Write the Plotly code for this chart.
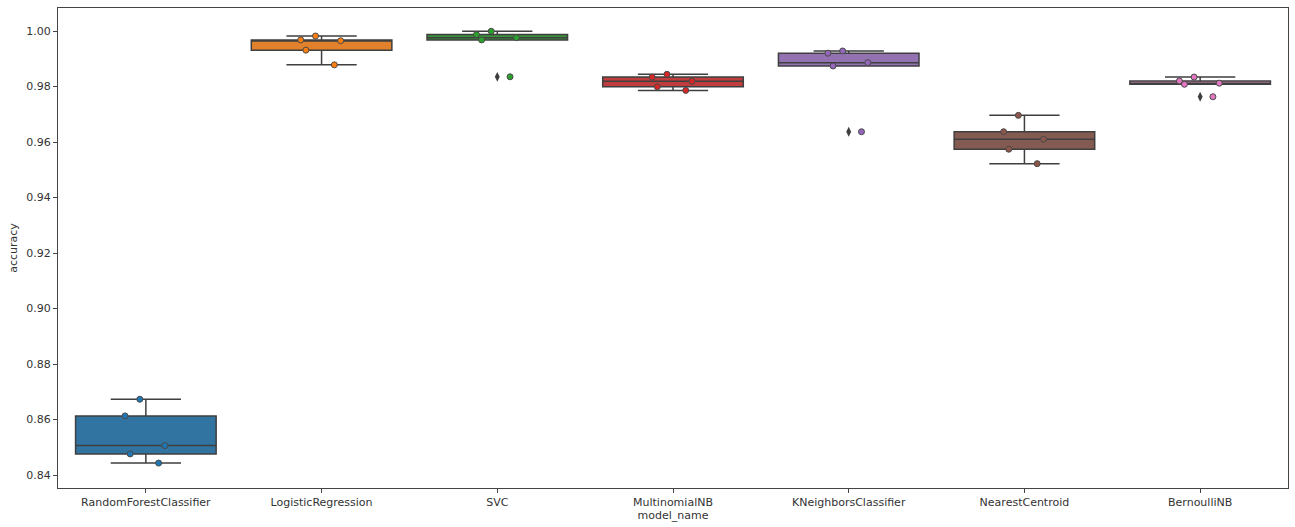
import plotly.graph_objects as go

categories = ["RandomForestClassifier", "LogisticRegression", "SVC", "MultinomialNB",
              "KNeighborsClassifier", "NearestCentroid", "BernoulliNB"]

rf_acc = [0.8673, 0.8613, 0.8506, 0.8476, 0.8443]
lr_acc = [0.9982, 0.9968, 0.9965, 0.9931, 0.9878]
svc_acc = [0.9999, 0.9987, 0.9976, 0.9968, 0.9835]
mnb_acc = [0.9844, 0.9834, 0.9819, 0.9799, 0.9786]
knn_acc = [0.9928, 0.9920, 0.9886, 0.9874, 0.9637]
nc_acc = [0.9696, 0.9637, 0.9610, 0.9574, 0.9522]
bnb_acc = [0.9834, 0.9820, 0.9812, 0.9808, 0.9763]

series = [rf_acc, lr_acc, svc_acc, mnb_acc, knn_acc, nc_acc, bnb_acc]

box_colors = ["#3274a1", "#e1812c", "#3a923a", "#c03d3e", "#9372b2", "#845b53", "#d684bd"]
point_colors = ["#1f77b4", "#ff7f0e", "#2ca02c", "#d62728", "#9467bd", "#8c564b", "#e377c2"]

y_ticks = [0.84, 0.86, 0.88, 0.90, 0.92, 0.94, 0.96, 0.98, 1.00]

fig = go.Figure()

line_col = "#3f3f3f"
for name, vals, bc in zip(categories, series, box_colors):
    fig.add_trace(go.Box(
        x=[name] * len(vals), y=vals, name=name,
        quartilemethod="inclusive",
        boxpoints="outliers", pointpos=0, jitter=0,
        width=0.8,
        fillcolor=bc,
        line=dict(color=line_col, width=1.5),
        marker=dict(symbol="diamond-tall", color=line_col, size=7),
        whiskerwidth=0.5,
        showlegend=False,
    ))

for name, vals, pc in zip(categories, series, point_colors):
    fig.add_trace(go.Box(
        x=[name] * len(vals), y=vals, name=name,
        boxpoints="all", pointpos=0, jitter=0.35,
        width=0.8,
        fillcolor="rgba(255,255,255,0)",
        line=dict(color="rgba(255,255,255,0)", width=0),
        marker=dict(color=pc, size=6, line=dict(color="#4a4a4a", width=1)),
        showlegend=False,
    ))

font = dict(family="DejaVu Sans", size=11, color="#333333")

fig.update_layout(
    width=1295, height=527,
    margin=dict(l=58, r=7, t=8, b=39, autoexpand=False),
    paper_bgcolor="white", plot_bgcolor="white",
    boxmode="overlay", boxgap=0.2,
    font=font,
    xaxis=dict(
        type="category", categoryorder="array", categoryarray=categories,
        range=[-0.5, 6.5],
        showline=True, linecolor="#444444", linewidth=1, mirror=True,
        ticks="outside", ticklen=4, tickcolor="#444444",
        showgrid=False, zeroline=False, automargin=False,
        title=dict(text="model_name", font=font, standoff=2),
    ),
    yaxis=dict(
        range=[0.83532, 1.00829],
        tickvals=y_ticks, tickformat=".2f",
        showline=True, linecolor="#444444", linewidth=1, mirror=True,
        ticks="outside", ticklen=4, tickcolor="#444444",
        showgrid=False, zeroline=False, automargin=False,
        title=dict(text="accuracy", font=font, standoff=6),
    ),
)

fig.write_html(
    "out.html",
    config={"displayModeBar": False},
    post_script="document.body.style.margin='0';document.body.style.overflow='hidden';",
)
